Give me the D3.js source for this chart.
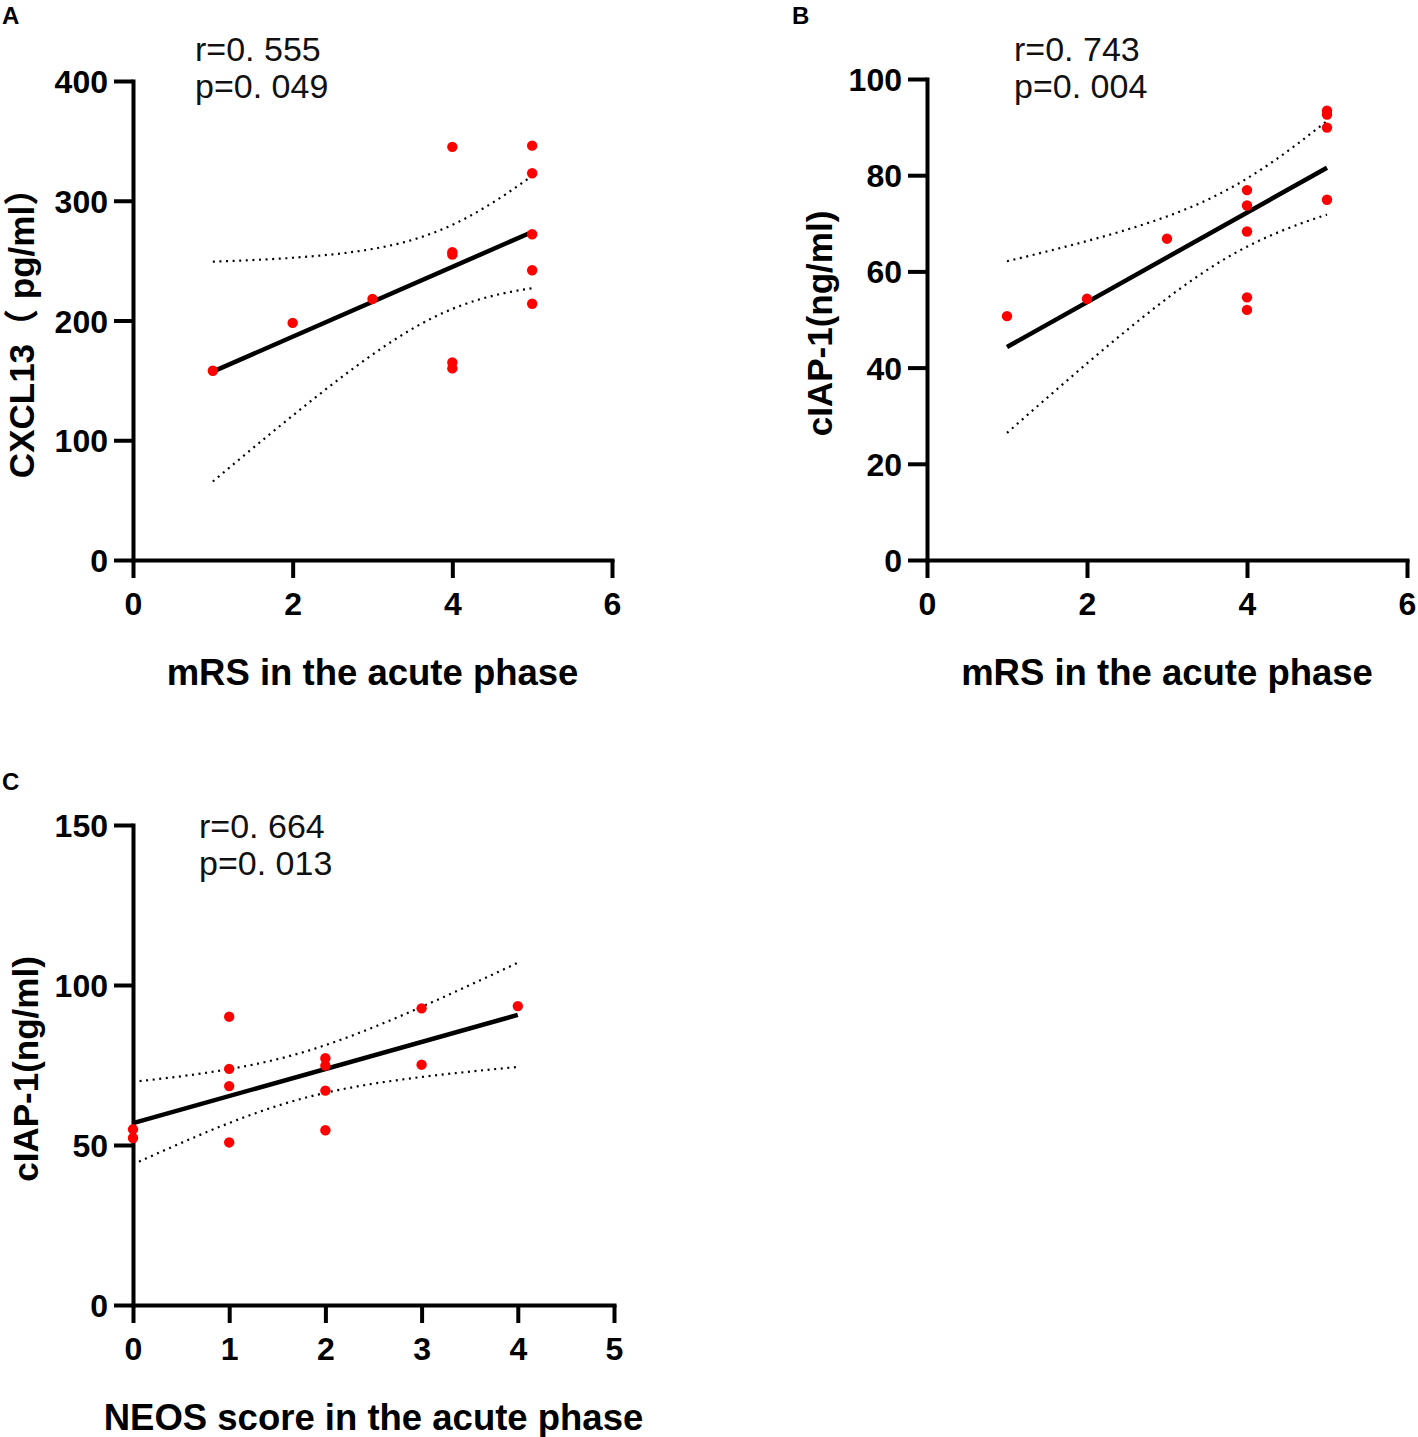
<!DOCTYPE html>
<html>
<head>
<meta charset="utf-8">
<script src="https://cdn.jsdelivr.net/npm/d3@7"></script>
<style>
  html, body { margin: 0; padding: 0; background: #fff; }
  svg { display: block; }
</style>
</head>
<body>
<svg id="chart" width="1418" height="1437"></svg>
<script>
// ---- Data ----
const A_x = [1, 2, 3, 4, 4, 4, 4, 4, 5, 5, 5, 5, 5];
const A_y = [158, 198, 218, 345, 257, 255, 165, 160, 346, 323, 272, 242, 214];
const B_x = [1, 2, 3, 4, 4, 4, 4, 4, 5, 5, 5, 5];
const B_y = [50.7, 54.3, 66.8, 76.9, 73.7, 68.3, 54.6, 52.0, 93.4, 92.6, 89.9, 74.9];
const C_x = [0, 0, 1, 1, 1, 1, 2, 2, 2, 2, 3, 3, 4];
const C_y = [54.9, 52.2, 90.1, 73.8, 68.4, 50.8, 77.1, 74.8, 67.0, 54.6, 92.7, 75.1, 93.4];

const A_yTicks = [0, 100, 200, 300, 400];
const A_xTicks = [0, 2, 4, 6];
const B_yTicks = [0, 20, 40, 60, 80, 100];
const B_xTicks = [0, 2, 4, 6];
const C_yTicks = [0, 50, 100, 150];
const C_xTicks = [0, 1, 2, 3, 4, 5];

const panelLabels = ["A", "B", "C"];
const xTitles = ["mRS in the acute phase", "mRS in the acute phase", "NEOS score in the acute phase"];
const yTitles = ["CXCL13（ pg/ml）", "cIAP-1(ng/ml)", "cIAP-1(ng/ml)"];
const rTexts = ["r=0. 555", "r=0. 743", "r=0. 664"];
const pTexts = ["p=0. 049", "p=0. 004", "p=0. 013"];

// two-sided 95% t critical values by degrees of freedom
const tCrit = {10: 2.228, 11: 2.201, 12: 2.179};

// ---- Layout ----
const panels = [
  {xs: A_x, ys: A_y, xd: [0, 6], yd: [0, 400], xt: A_xTicks, yt: A_yTicks,
   px: [133, 612], py: [560, 81], lab: [2, 24], stat: [195, 61], yTitleX: 34},
  {xs: B_x, ys: B_y, xd: [0, 6], yd: [0, 100], xt: B_xTicks, yt: B_yTicks,
   px: [927, 1407], py: [560, 79], lab: [792, 24], stat: [1014, 61], yTitleX: 832},
  {xs: C_x, ys: C_y, xd: [0, 5], yd: [0, 150], xt: C_xTicks, yt: C_yTicks,
   px: [133, 614], py: [1305, 825], lab: [2, 790], stat: [199, 838], yTitleX: 38}
];

const svg = d3.select("#chart");
const FONT = "'Liberation Sans', Arial, 'Noto Sans CJK SC', sans-serif";

function fit(xs, ys) {
  const n = xs.length;
  const mx = d3.mean(xs), my = d3.mean(ys);
  let sxx = 0, sxy = 0, syy = 0;
  for (let i = 0; i < n; i++) {
    sxx += (xs[i] - mx) ** 2;
    sxy += (xs[i] - mx) * (ys[i] - my);
    syy += (ys[i] - my) ** 2;
  }
  const b = sxy / sxx, a = my - b * mx;
  const s = Math.sqrt((syy - b * sxy) / (n - 2));
  const t = tCrit[n - 2];
  return {
    f: x => a + b * x,
    half: x => t * s * Math.sqrt(1 / n + (x - mx) ** 2 / sxx)
  };
}

panels.forEach((p, i) => {
  const g = svg.append("g");
  const x = d3.scaleLinear().domain(p.xd).range(p.px);
  const y = d3.scaleLinear().domain(p.yd).range(p.py);

  // axes
  const fmt = d3.format("d");
  const yAxis = d3.axisLeft(y).tickValues(p.yt).tickFormat(fmt).tickSize(19).tickSizeOuter(0).tickPadding(6);
  const xAxis = d3.axisBottom(x).tickValues(p.xt).tickFormat(fmt).tickSize(18).tickSizeOuter(0).tickPadding(8);

  const gy = g.append("g").attr("transform", `translate(${p.px[0]},0)`).call(yAxis);
  const gx = g.append("g").attr("transform", `translate(0,${p.py[0]})`).call(xAxis);
  [gx, gy].forEach(ax => {
    ax.select(".domain").attr("stroke", "#000").attr("stroke-width", 4).attr("stroke-linecap", "square");
    ax.selectAll(".tick line").attr("stroke", "#000").attr("stroke-width", 4);
    ax.selectAll(".tick text").attr("fill", "#000")
      .style("font-family", FONT).style("font-weight", "bold").style("font-size", "32px");
  });
  gy.selectAll(".tick text").attr("dy", "0.36em");
  gx.selectAll(".tick text").attr("dy", "0.9em");

  // fit line and bands
  const F = fit(p.xs, p.ys);
  const x0 = d3.min(p.xs), x1 = d3.max(p.xs);
  const samples = d3.range(0, 61).map(k => x0 + (x1 - x0) * k / 60);
  const line = d3.line().x(d => x(d[0])).y(d => y(d[1]));

  ["upper", "lower"].forEach(side => {
    const sign = side === "upper" ? 1 : -1;
    g.append("path")
      .datum(samples.map(v => [v, F.f(v) + sign * F.half(v)]))
      .attr("d", line)
      .attr("fill", "none").attr("stroke", "#000")
      .attr("stroke-width", 2.2).attr("stroke-dasharray", "2,4.6");
  });

  g.append("path")
    .datum([[x0, F.f(x0)], [x1, F.f(x1)]])
    .attr("d", line)
    .attr("fill", "none").attr("stroke", "#000").attr("stroke-width", 4.5);

  // points
  g.selectAll("circle.pt").data(p.xs.map((v, k) => [v, p.ys[k]])).enter()
    .append("circle").attr("class", "pt")
    .attr("cx", d => x(d[0])).attr("cy", d => y(d[1])).attr("r", 5.2)
    .attr("fill", "#ff0000");

  // titles
  g.append("text")
    .attr("x", (p.px[0] + p.px[1]) / 2)
    .attr("y", p.py[0] + 125)
    .attr("text-anchor", "middle")
    .style("font-family", FONT).style("font-weight", "bold").style("font-size", "36.5px")
    .text(xTitles[i]);

  g.append("text")
    .attr("transform", `translate(${p.yTitleX},${(p.py[0] + p.py[1]) / 2 + 4}) rotate(-90)`)
    .attr("text-anchor", "middle")
    .style("font-family", FONT).style("font-weight", "bold").style("font-size", "35px")
    .text(yTitles[i]);

  // stats
  [rTexts[i], pTexts[i]].forEach((t, k) => {
    g.append("text")
      .attr("x", p.stat[0]).attr("y", p.stat[1] + k * 37)
      .style("font-family", FONT).style("font-size", "34px").attr("fill", "#111")
      .text(t);
  });

  // panel label
  g.append("text")
    .attr("x", p.lab[0]).attr("y", p.lab[1])
    .style("font-family", FONT).style("font-weight", "bold").style("font-size", "24px")
    .text(panelLabels[i]);
});
</script>
</body>
</html>
